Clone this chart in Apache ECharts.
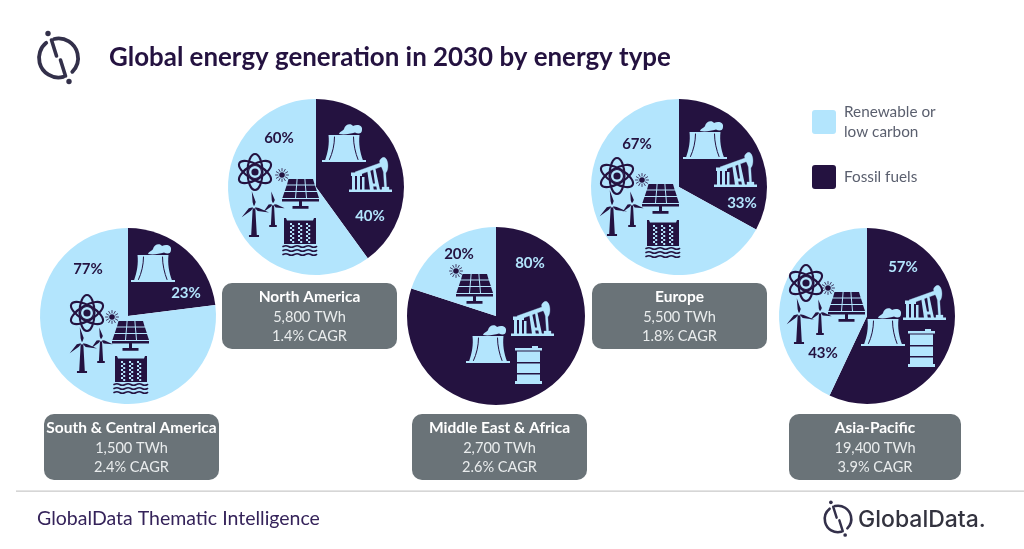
<!DOCTYPE html>
<html><head><meta charset="utf-8">
<script src="https://cdn.jsdelivr.net/npm/echarts@6/dist/echarts.min.js"></script>
<style>html,body{margin:0;padding:0;background:#fff}#c{width:1024px;height:549px}</style></head>
<body><div id="c"></div>
<script>
const regions = ['South & Central America','North America','Middle East & Africa','Europe','Asia-Pacific'];
const fossilShare = [23,40,80,33,57];
const renewableShare = [77,60,20,67,43];
const generationTWh = ['1,500','5,800','2,700','5,500','19,400'];
const cagrPct = ['2.4','1.4','2.6','1.8','3.9'];
const seriesNames = ['Renewable or low carbon','Fossil fuels'];
const titleText = 'Global energy generation in 2030 by energy type';
const footerText = 'GlobalData Thematic Intelligence';
const brandText = 'GlobalData.';

const DARK='#241240', LIGHT='#b3e5fd', BOX='#6a7378', FONT='Lato, Carlito, sans-serif';
const layout = [
 {c:[128,316],r:88,box:[44,414,175,66],fl:[186,293],rl:[88,269]},
 {c:[316,187],r:88,box:[222,283,175,66],fl:[370,216],rl:[279,138]},
 {c:[496,316],r:89,box:[412,414,175,66],fl:[530,263],rl:[459,254]},
 {c:[679,187],r:88,box:[592,283,175,66],fl:[742,203],rl:[637,144]},
 {c:[867,316],r:88,box:[789,414,172,66],fl:[903,267],rl:[823,353]}
];
const icons = [
 {tower:[131,282],atom:[87,313],sun:[112,317],panel:[112,321],big:[82,373],small:[101,363],dam:[114,356]},
 {tower:[322,162],pump:[349,192],atom:[255,172],sun:[282,175],panel:[282,179],big:[254,237],small:[273,227],dam:[283,218]},
 {tower:[466,363],pump:[511,336],barrel:[515,348],sun:[456,271],panel:[456,274]},
 {tower:[683,159],pump:[714,187],atom:[617,176],sun:[642,180],panel:[642,184],big:[612,236],small:[632,227],dam:[646,220]},
 {tower:[861,346],pump:[903,320],barrel:[908,331],atom:[806,283],sun:[828,288],panel:[828,292],big:[799,344],small:[820,335]}
];

let nShape=0; const shapeCache={};
function pathType(d){
  if(!shapeCache[d]){
    const nm='iconPath'+(nShape++);
    echarts.graphic.registerShape(nm,echarts.graphic.extendPath(d,{}));
    shapeCache[d]=nm;
  }
  return shapeCache[d];
}
function P(d,pos,fill,sw){return {type:pathType(d),x:pos[0],y:pos[1],z:10,style:sw?{fill:fill,stroke:fill,lineWidth:sw}:{fill:fill}};}
function S(d,pos,stroke,lw){return {type:pathType(d),x:pos[0],y:pos[1],z:11,
  style:{fill:'none',stroke:stroke,lineWidth:lw,lineCap:'round'}};}

function tower(p,col){
 return [
  P('M0 -2H44V0H0Z',p,col),
  P('M3 -1.5C6 -10 7.5 -18 6.5 -27H37.5C36.5 -18 38 -10 41 -1.5Z',p,col),
  S('M12.5 -25C12.5 -17 10.5 -9 7.5 -2.5',p,DARK,1),
  S('M31.5 -25C31.5 -17 33.5 -9 36 -2.5',p,DARK,1),
  P('M17 -28C18 -31 21 -31 22 -33C23 -38 29 -39 31 -36C35 -38 41 -37 40 -32C40 -28 36 -28 33 -29.5C28 -28 22 -27 17 -28Z',p,col)
 ];
}
function pump(p,col){
 return [
  P('M0 -2.5H43V0H0Z',p,col),
  P('M3 -2V-17H6V-2Z M8 -2V-17H11V-2Z M2 -19.5H13V-16H2Z M13 -2V-15H15.5V-2Z',p,col),
  P('M6 -20L8 -16.5L34 -26L32.5 -29.5Z',p,col,.4),
  P('M21 -2L18 -23H21L24 -8.5H26L24 -23H26.5L31 -2H28L27.3 -5.5H24.3L24.8 -2Z',p,col),
  P('M30.5 -31C33 -36 37 -36 38.5 -30C39.5 -26 38.8 -21 36.8 -19L37.6 -5H40V-2H33V-5H35.4L34.4 -20C33 -25 31 -27 30.5 -31Z',p,col,.3)
 ];
}
function barrel(p,col){
 return [P('M0 0H27V2.5H0Z M2 3.5H25V14H2Z M2 15.5H25V25H2Z M2 26.5H25V33H2Z M0 33H27V36H0Z M17 -2H23V0H17Z',p,col)];
}
function atom(p,col){
 const e={type:'ellipse',shape:{cx:0,cy:0,rx:18,ry:7.5},style:{fill:'none',stroke:col,lineWidth:2.1},z:10};
 return [
  Object.assign({},e,{x:p[0],y:p[1],rotation:Math.PI/6}),
  Object.assign({},e,{x:p[0],y:p[1],rotation:-Math.PI/6}),
  Object.assign({},e,{x:p[0],y:p[1],rotation:Math.PI/2}),
  {type:'circle',x:p[0],y:p[1],z:10,shape:{cx:0,cy:0,r:3.6},style:{fill:col}},
  {type:'circle',x:p[0],y:p[1],z:10,shape:{cx:0,cy:0,r:6.5},style:{fill:'none',stroke:col,lineWidth:1.1}}
 ];
}
function sun(p,col){
 const out=[{type:'circle',x:p[0],y:p[1],z:10,shape:{cx:0,cy:0,r:2.8},style:{fill:col}}];
 let d='';
 for(let i=0;i<12;i++){const a=i*Math.PI/6;d+=`M${(4*Math.cos(a)).toFixed(2)} ${(4*Math.sin(a)).toFixed(2)}L${(6.5*Math.cos(a)).toFixed(2)} ${(6.5*Math.sin(a)).toFixed(2)}`;}
 out.push(S(d,p,col,0.8));
 return out;
}
function panel(p,col){
 return [P('M6.5 0H14.6L14.2 5.4H5Z M15.6 0H22.4L22.8 5.4H15.2Z M23.4 0H31L32.6 5.4H23.8Z '+
  'M4.6 6.4H14.1L13.6 12H2.8Z M15.1 6.4H22.9L23.4 12H14.6Z M23.9 6.4H33L34.8 12H24.4Z '+
  'M2.4 13H13.5L13 19H0.4Z M14.5 13H23.5L24 19H14Z M24.5 13H35L37 19H25Z '+
  'M0 20H37V22.4H0Z M17 22H20V27.3H17Z M10.5 27H26.5V29.8H10.5Z',p,col)];
}
function turbine(p,h,bl,col){
 const [x,y]=p, hub=y-h, w=h>25?2.8:2.1;
 const blades=[-8,110,230].map(deg=>{
   const a=(deg-90)*Math.PI/180, n=a+Math.PI/2, tx=bl*Math.cos(a), ty=bl*Math.sin(a);
   const mx=tx*.3, my=ty*.3, k=2.4;
   return `M0 0L${(mx+k*Math.cos(n)).toFixed(2)} ${(my+k*Math.sin(n)).toFixed(2)}L${tx.toFixed(2)} ${ty.toFixed(2)}L${(mx-k*.3*Math.cos(n)).toFixed(2)} ${(my-k*.3*Math.sin(n)).toFixed(2)}Z`;
 }).join(' ');
 return [
  P(`M${(-w*.45).toFixed(2)} 0L${(w*.45).toFixed(2)} 0L${w} ${h-2}L${w*1.8} ${h-2}L${w*1.8} ${h}L${-w*1.8} ${h}L${-w*1.8} ${h-2}L${-w} ${h-2}Z`,[x,hub],col),
  P(blades,[x,hub],col),
  {type:'circle',x:x,y:hub,z:11,shape:{cx:0,cy:0,r:1.5},style:{fill:LIGHT}}
 ];
}
function dam(p,col){
 const [x,y]=p, out=[];
 out.push(P('M1 0H3L4 2.5H30L31 0H33V26H1Z',p,col));
 [7,15,23].forEach(o=>{
   [5,9,13,17,21].forEach(v=>{
     out.push({type:'rect',x:x+o,y:y+v,z:11,shape:{x:0,y:0,width:2,height:2},style:{fill:LIGHT}});
     out.push({type:'rect',x:x+o+2.2,y:y+v+2,z:11,shape:{x:0,y:0,width:2,height:2},style:{fill:LIGHT}});
   });
 });
 ['28.5','32.5','36.5'].forEach(v=>{
   out.push(S(`M0 ${v}q3 -1.6 5.6 0t5.6 0t5.6 0t5.6 0t5.6 0t5.6 0`,p,col,1.6));
 });
 return out;
}
function logo(cx,cy,s,col){
 const g=[];
 const arc=(a0,a1)=>({type:'arc',x:cx,y:cy,z:10,shape:{cx:0,cy:0,r:19.5*s,startAngle:a0*Math.PI/180,endAngle:a1*Math.PI/180,clockwise:true},style:{fill:'none',stroke:col,lineWidth:3.8*s,lineCap:'round'}});
 g.push(arc(-103,45),arc(76,231));
 g.push({type:'circle',x:cx-10.5*s,y:cy-24.5*s,z:10,shape:{cx:0,cy:0,r:2.7*s},style:{fill:col}});
 g.push({type:'circle',x:cx+10.5*s,y:cy+23.5*s,z:10,shape:{cx:0,cy:0,r:2.7*s},style:{fill:col}});
 g.push(S(`M${(-7*s).toFixed(2)} ${(-18*s).toFixed(2)}L${(-2*s).toFixed(2)} ${(-2*s).toFixed(2)}`,[cx,cy],col,3.6*s));
 g.push(S(`M${(2*s).toFixed(2)} ${(2*s).toFixed(2)}L${(7*s).toFixed(2)} ${(18*s).toFixed(2)}`,[cx,cy],col,3.6*s));
 return g;
}

const graphics=[];
const txt=(t,x,y,font,fill,align)=>({type:'text',x:x,y:y,z:12,style:{text:t,font:font,fill:fill,align:align||'center',verticalAlign:'middle'}});

graphics.push(...logo(58.5,58,1,'#33304a'));
graphics.push(txt(titleText,109,58,'bold 25.9px '+FONT,DARK,'left'));
graphics.push({type:'rect',z:5,shape:{x:16,y:490.5,width:1008,height:1.3},style:{fill:'#c9c9c9'}});
graphics.push(txt(footerText,37,519,'19.5px '+FONT,'#35235a','left'));
graphics.push(...logo(838,519,0.68,'#33304a'));
graphics.push(txt(brandText,858,520,'500 23px Inter, sans-serif','#33333f','left'));

regions.forEach((name,i)=>{
  const L=layout[i], I=icons[i], b=L.box, cx=b[0]+b[2]/2;
  graphics.push({type:'rect',z:5,shape:{x:b[0],y:b[1],width:b[2],height:b[3],r:10},style:{fill:BOX}});
  graphics.push(txt(name,cx,b[1]+14,'bold 15.5px '+FONT,'#fff'));
  graphics.push(txt(generationTWh[i]+' TWh',cx,b[1]+34,'14.6px '+FONT,'#e9eced'));
  graphics.push(txt(cagrPct[i]+'% CAGR',cx,b[1]+53,'14.6px '+FONT,'#e9eced'));
  graphics.push(txt(fossilShare[i]+'%',L.fl[0],L.fl[1],'bold 15px '+FONT,LIGHT));
  graphics.push(txt(renewableShare[i]+'%',L.rl[0],L.rl[1],'bold 15px '+FONT,DARK));
  if(I.tower)graphics.push(...tower(I.tower,LIGHT));
  if(I.pump)graphics.push(...pump(I.pump,LIGHT));
  if(I.barrel)graphics.push(...barrel(I.barrel,LIGHT));
  if(I.atom)graphics.push(...atom(I.atom,DARK));
  if(I.sun)graphics.push(...sun(I.sun,DARK));
  if(I.panel)graphics.push(...panel(I.panel,DARK));
  if(I.big)graphics.push(...turbine(I.big,30,16,DARK));
  if(I.small)graphics.push(...turbine(I.small,23,12.5,DARK));
  if(I.dam)graphics.push(...dam(I.dam,DARK));
});

const series=regions.map((name,i)=>({
  type:'pie',name:name,center:layout[i].c,radius:[0,layout[i].r],startAngle:90,clockwise:true,
  silent:true,animation:false,label:{show:false},labelLine:{show:false},
  data:[
    {name:seriesNames[1],value:fossilShare[i],itemStyle:{color:DARK}},
    {name:seriesNames[0],value:renewableShare[i],itemStyle:{color:LIGHT}}
  ]
}));

const chart=echarts.init(document.getElementById('c'),null,{renderer:'canvas'});
chart.setOption({
  animation:false,
  backgroundColor:'#fff',
  legend:{
    left:807,top:97,orient:'vertical',
    icon:'path://M3 0H21Q24 0 24 3V21Q24 24 21 24H3Q0 24 0 21V3Q0 0 3 0Z',
    itemWidth:24,itemHeight:24,itemGap:23,
    selectedMode:false,data:seriesNames,
    formatter:n=>n==='Renewable or low carbon'?'Renewable or\nlow carbon':n,
    textStyle:{fontFamily:FONT,fontSize:15.3,color:'#5a5f6e',lineHeight:20,padding:[0,0,0,3]},
    itemStyle:{borderWidth:0}
  },
  series:series,
  graphic:{elements:graphics}
});
</script></body></html>
